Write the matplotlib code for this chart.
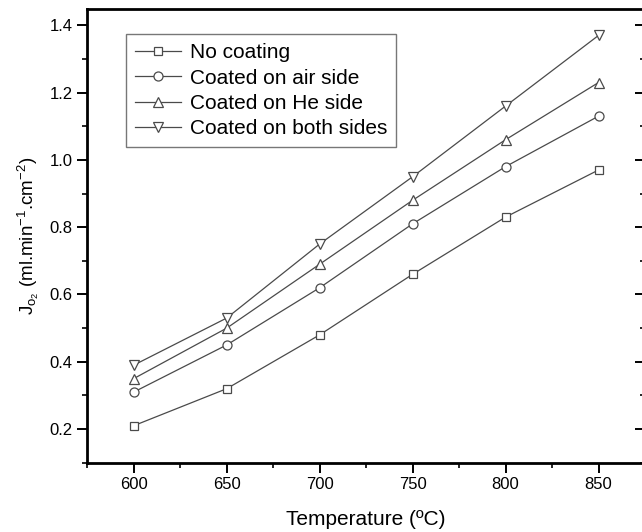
import numpy as np
import matplotlib
matplotlib.use('Agg')
import matplotlib.pyplot as plt
from matplotlib.ticker import MultipleLocator

plt.rcParams['font.family'] = ['Liberation Sans', 'DejaVu Sans']
plt.rcParams['mathtext.fontset'] = 'custom'
plt.rcParams['mathtext.rm'] = 'Liberation Sans'
plt.rcParams['mathtext.it'] = 'Liberation Sans'

# data
temperature = [600, 650, 700, 750, 800, 850]
no_coating = [0.21, 0.32, 0.48, 0.66, 0.83, 0.97]
air_side = [0.31, 0.45, 0.62, 0.81, 0.98, 1.13]
he_side = [0.35, 0.50, 0.69, 0.88, 1.06, 1.23]
both_sides = [0.39, 0.53, 0.75, 0.95, 1.16, 1.37]

labels = ['No coating', 'Coated on air side', 'Coated on He side', 'Coated on both sides']
markers = ['s', 'o', '^', 'v']
sizes = [6, 6.5, 7.5, 7.5]

fig = plt.figure(figsize=(6.42, 5.32), dpi=100)
ax = fig.add_axes([87.3 / 642, 1 - 462.7 / 532, (645 - 87.3) / 642, (462.7 - 8.5) / 532])

for ys, m, lab, ms in zip([no_coating, air_side, he_side, both_sides], markers, labels, sizes):
    ax.plot(temperature, ys, color='#4a4a4a', lw=0.9, marker=m, ms=ms,
            mfc='white', mec='#4a4a4a', mew=0.9, label=lab)

ax.set_xlim(575, 875)
ax.set_ylim(0.1, 1.45)
ax.xaxis.set_major_locator(MultipleLocator(50))
ax.xaxis.set_minor_locator(MultipleLocator(25))
ax.yaxis.set_major_locator(MultipleLocator(0.2))
ax.yaxis.set_minor_locator(MultipleLocator(0.1))
ax.yaxis.set_major_formatter(matplotlib.ticker.FormatStrFormatter('%.1f'))

for s in ax.spines.values():
    s.set_linewidth(2.0)
    s.set_color('black')
ax.tick_params(which='major', direction='out', length=7, width=1.4, labelsize=12)
ax.tick_params(which='minor', direction='out', length=3.5, width=1.2)
ax.tick_params(which='both', right=True, top=False)
ax.tick_params(axis='y', which='both', labelright=False)
# right side ticks point inward
for t in ax.yaxis.get_major_ticks() + ax.yaxis.get_minor_ticks():
    t.tick2line.set_marker(matplotlib.lines.TICKLEFT)

ax.set_xlabel('Temperature (ºC)', fontsize=15, labelpad=13)
ax.set_ylabel(r'J$_{\mathregular{o_2}}$ (ml.min$^{-1}$.cm$^{-2}$)', fontsize=13.5, labelpad=6)

leg = ax.legend(loc='upper left', bbox_to_anchor=(0.0694, 0.944), borderaxespad=0,
                fontsize=15, frameon=True, fancybox=False, edgecolor='#555555',
                handlelength=2.2, labelspacing=0.3, borderpad=0.45, handletextpad=0.4)
leg.get_frame().set_linewidth(1.0)

fig.savefig('out.png', dpi=100)
